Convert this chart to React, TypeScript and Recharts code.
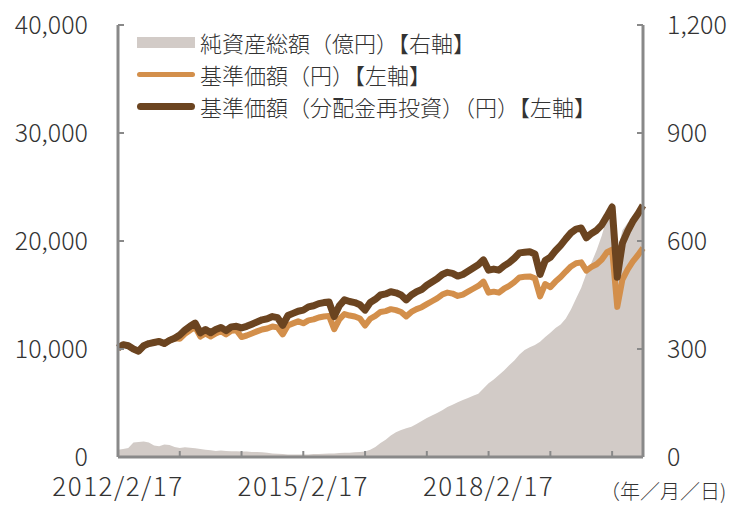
import { Area, ComposedChart, Legend, Line, XAxis, YAxis } from "recharts";

// month index 0 = 2012/2/17, one point per month up to 2020/8
const tickMonths = [0, 12, 24, 36, 48, 60, 72, 84, 96];
const tickLabels = ["2012/2/17", "", "", "2015/2/17", "", "", "2018/2/17", "", ""];
const leftTicks = [0, 10000, 20000, 30000, 40000];
const rightTicks = [0, 300, 600, 900, 1200];

// 基準価額(分配金再投資)(円)
const navReinvested = [
  10100, 10400, 10300, 10000, 9800, 10300, 10500, 10600, 10700, 10500, 10800, 11000,
  11300, 11750, 12100, 12400, 11500, 11800, 11500, 11800, 12000, 11700, 12050, 12100,
  11950, 12100, 12300, 12500, 12700, 12800, 13000, 12900, 12200, 13100, 13300, 13500,
  13600, 13900, 14000, 14200, 14300, 14350, 13000, 14000, 14550, 14400, 14300, 14100,
  13600, 14300, 14600, 15000, 15100, 15300, 15200, 15000, 14550, 15000, 15300, 15500,
  15900, 16200, 16500, 16900, 17100, 17000, 16750, 16900, 17200, 17500, 17800, 18250,
  17300, 17400, 17300, 17700, 18000, 18400, 18900, 18950, 19000, 18800, 16900, 18200,
  18500, 19100, 19600, 20200, 20750, 21100, 21200, 20300, 20700, 21000, 21500, 22300,
  23150, 16650, 19800, 20900, 21800, 22500, 23300,
];

// 基準価額(円)
const nav = [
  10100, 10400, 10300, 10000, 9800, 10300, 10500, 10600, 10700, 10500, 10800, 11000,
  10950, 11400, 11740, 12030, 11150, 11450, 11150, 11450, 11640, 11350, 11690, 11740,
  11110, 11250, 11440, 11630, 11810, 11900, 12090, 12000, 11350, 12180, 12370, 12560,
  12380, 12650, 12740, 12920, 13010, 13060, 11830, 12740, 13240, 13100, 13010, 12830,
  12170, 12800, 13070, 13430, 13510, 13690, 13600, 13430, 13020, 13430, 13690, 13870,
  14150, 14420, 14690, 15040, 15220, 15130, 14910, 15040, 15310, 15580, 15840, 16240,
  15220, 15310, 15220, 15580, 15840, 16190, 16630, 16680, 16720, 16540, 14870, 16020,
  15730, 16240, 16660, 17170, 17640, 17940, 18020, 17260, 17600, 17850, 18280, 18960,
  19210, 13900, 16430, 17350, 18090, 18680, 19340,
];

// 純資産総額(億円)
const netAssets = [
  20, 22, 25, 40, 42, 43, 40, 32, 30, 35, 33, 28,
  25, 27, 26, 24, 22, 20, 19, 17, 18, 17, 16, 16,
  15, 15, 14, 14, 13, 12, 10, 9, 8, 7, 7, 7,
  7, 7, 8, 8, 9, 10, 10, 11, 12, 12, 13, 14,
  15, 20, 28, 39, 48, 60, 69, 75, 80, 84, 92, 100,
  108, 115, 122, 130, 139, 145, 152, 158, 164, 170, 176, 190,
  205, 215, 228, 240, 255, 268, 285, 297, 305, 311, 320, 333,
  345, 358, 368, 385, 410, 440, 470, 510, 540, 575, 615, 665,
  710, 570, 630, 650, 665, 680, 690,
];

const legendItems = [
  { label: "純資産総額（億円）【右軸】", color: "#d2cbc7", kind: "area" },
  { label: "基準価額（円）【左軸】", color: "#d38f4b", kind: "thin" },
  { label: "基準価額（分配金再投資）（円）【左軸】", color: "#6b4420", kind: "thick" },
];

const data = navReinvested.map((v, i) => ({
  m: i,
  reinvested: v,
  nav: nav[i],
  assets: netAssets[i],
}));

const axisColor = "#898989";
const textColor = "#333333";
const font = '"Noto Sans CJK JP", "Noto Sans", sans-serif';

function ChartLegend() {
  return (
    <div style={{ fontFamily: font }}>
      {legendItems.map((item) => (
        <div
          key={item.label}
          style={{ display: "flex", alignItems: "center", height: 32, whiteSpace: "nowrap" }}
        >
          <div
            style={{
              width: 58,
              height: item.kind === "area" ? 11 : item.kind === "thin" ? 5 : 7,
              background: item.color,
              borderRadius: item.kind === "area" ? 0 : 4,
              marginRight: 5,
            }}
          />
          <span style={{ fontSize: 22, fontWeight: 300, color: textColor, lineHeight: "32px" }}>
            {item.label}
          </span>
        </div>
      ))}
    </div>
  );
}

export default function App() {
  return (
    <div
      style={{
        position: "absolute",
        left: 0,
        top: 0,
        width: 734,
        height: 505,
        background: "#fff",
        fontFamily: font,
        fontWeight: 300,
      }}
    >
      <ComposedChart
        width={734}
        height={505}
        data={data}
        margin={{ top: 25, right: 0, bottom: 0, left: 0 }}
      >
        <XAxis
          dataKey="m"
          type="number"
          domain={[0, 102]}
          ticks={tickMonths}
          interval={0}
          tickFormatter={(v) => tickLabels[tickMonths.indexOf(v)] ?? ""}
          height={48}
          tickSize={-6}
          tickMargin={27}
          axisLine={{ stroke: axisColor, strokeWidth: 3 }}
          tickLine={{ stroke: axisColor, strokeWidth: 2 }}
          tick={{ fill: textColor, fontSize: 26, fontWeight: 300, letterSpacing: 1.5 }}
        />
        <YAxis
          yAxisId="left"
          domain={[0, 40000]}
          ticks={leftTicks}
          interval={0}
          tickFormatter={(v) => v.toLocaleString("en-US")}
          width={118}
          tickSize={-6}
          tickMargin={36}
          axisLine={{ stroke: axisColor, strokeWidth: 3 }}
          tickLine={{ stroke: axisColor, strokeWidth: 2 }}
          tick={{ fill: textColor, fontSize: 25, fontWeight: 300 }}
        />
        <YAxis
          yAxisId="right"
          orientation="right"
          domain={[0, 1200]}
          ticks={rightTicks}
          interval={0}
          tickFormatter={(v) => v.toLocaleString("en-US")}
          width={91}
          tickSize={-6}
          tickMargin={30}
          axisLine={{ stroke: axisColor, strokeWidth: 3 }}
          tickLine={{ stroke: axisColor, strokeWidth: 2 }}
          tick={{ fill: textColor, fontSize: 25, fontWeight: 300, textAnchor: "start" }}
        />
        <Legend
          layout="vertical"
          align="center"
          verticalAlign="middle"
          wrapperStyle={{ top: 26, left: 137, width: "auto" }}
          content={() => <ChartLegend />}
        />
        <Area
          yAxisId="right"
          type="linear"
          dataKey="assets"
          stroke="none"
          fill="#d2cbc7"
          fillOpacity={1}
          isAnimationActive={false}
        />
        <Line
          yAxisId="left"
          type="linear"
          dataKey="nav"
          stroke="#d38f4b"
          strokeWidth={6}
          dot={false}
          strokeLinejoin="round"
          isAnimationActive={false}
        />
        <Line
          yAxisId="left"
          type="linear"
          dataKey="reinvested"
          stroke="#6b4420"
          strokeWidth={7}
          dot={false}
          strokeLinejoin="round"
          isAnimationActive={false}
        />
      </ComposedChart>
      <span
        style={{
          position: "absolute",
          left: 600,
          top: 479,
          fontSize: 20,
          color: textColor,
          whiteSpace: "nowrap",
          lineHeight: "24px",
        }}
      >
        （年／月／日)
      </span>
    </div>
  );
}
